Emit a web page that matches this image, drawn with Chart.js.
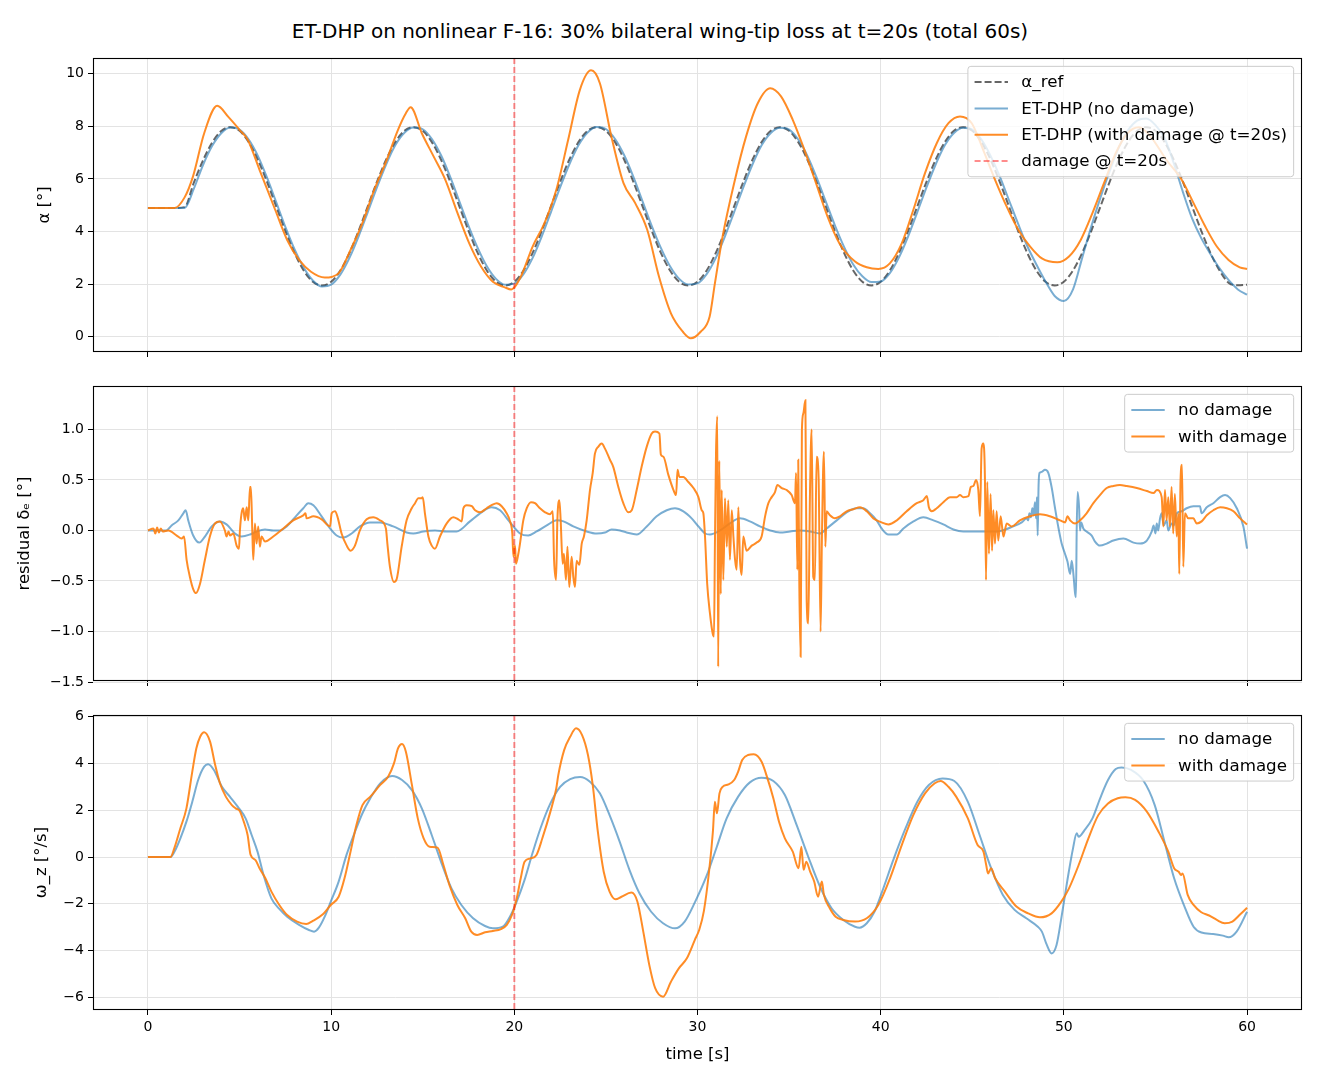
<!DOCTYPE html>
<html>
<head>
<meta charset="utf-8">
<title>ET-DHP F-16 damage</title>
<script src="https://cdn.jsdelivr.net/npm/chart.js@4.4.1/dist/chart.umd.min.js"></script>
<style>
  html, body { margin: 0; padding: 0; background: #fff; }
  body { width: 1320px; height: 1080px; position: relative; overflow: hidden; font-family: 'DejaVu Sans', sans-serif; }
  .panel { position: absolute; left: 0; width: 1320px; }
  #title { position: absolute; left: 0; top: 19px; width: 1320px; text-align: center; font-size: 20px; line-height: 24px; color: #000; }
</style>
</head>
<body>
<div id="title">ET-DHP on nonlinear F-16: 30% bilateral wing-tip loss at t=20s (total 60s)</div>
<div class="panel" style="top:42px;height:326px"><canvas id="chart-alpha"></canvas></div>
<div class="panel" style="top:370px;height:327px"><canvas id="chart-residual"></canvas></div>
<div class="panel" style="top:699px;height:371px"><canvas id="chart-omega"></canvas></div>
<script>
(function () {
    'use strict';

    // ---- tick values ----
    var timeTicks  = [0, 10, 20, 30, 40, 50, 60];
    var alphaTicks = [0, 2, 4, 6, 8, 10];
    var residTicks = [-1.5, -1.0, -0.5, 0.0, 0.5, 1.0];
    var omegaTicks = [-6, -4, -2, 0, 2, 4, 6];
    var damageTime = 20;

    // ---- alpha: 0.5 s grid (t = 0 .. 60) ----
    var tGrid = [];
    for (var i = 0; i <= 120; i++) tGrid.push(i * 0.5);

    var alphaRef = [
        4.90, 4.90, 4.90, 4.90, 4.93, 5.85, 6.70, 7.38, 7.82, 7.97,
        7.83, 7.40, 6.73, 5.89, 4.96, 4.03, 3.19, 2.52, 2.09, 1.95,
        2.09, 2.52, 3.19, 4.03, 4.96, 5.89, 6.73, 7.40, 7.83, 7.97,
        7.83, 7.40, 6.73, 5.89, 4.96, 4.03, 3.19, 2.52, 2.09, 1.95,
        2.09, 2.52, 3.19, 4.03, 4.96, 5.89, 6.73, 7.40, 7.83, 7.97,
        7.83, 7.40, 6.73, 5.89, 4.96, 4.03, 3.19, 2.52, 2.09, 1.95,
        2.09, 2.52, 3.19, 4.03, 4.96, 5.89, 6.73, 7.40, 7.83, 7.97,
        7.83, 7.40, 6.73, 5.89, 4.96, 4.03, 3.19, 2.52, 2.09, 1.95,
        2.09, 2.52, 3.19, 4.03, 4.96, 5.89, 6.73, 7.40, 7.83, 7.97,
        7.83, 7.40, 6.73, 5.89, 4.96, 4.03, 3.19, 2.52, 2.09, 1.95,
        2.09, 2.52, 3.19, 4.03, 4.96, 5.89, 6.73, 7.40, 7.83, 7.97,
        7.83, 7.40, 6.73, 5.89, 4.96, 4.03, 3.19, 2.52, 2.05, 1.96,
        1.98
    ];

    var alphaNoDamage = [
        4.90, 4.90, 4.90, 4.90, 4.90, 5.62, 6.52, 7.25, 7.74, 7.96,
        7.88, 7.50, 6.88, 6.05, 5.12, 4.18, 3.33, 2.63, 2.14, 1.91,
        1.98, 2.36, 3.00, 3.82, 4.74, 5.68, 6.55, 7.28, 7.76, 7.96,
        7.89, 7.52, 6.90, 6.08, 5.15, 4.22, 3.38, 2.68, 2.20, 1.98,
        2.02, 2.38, 3.00, 3.82, 4.74, 5.68, 6.55, 7.28, 7.77, 7.98,
        7.90, 7.52, 6.90, 6.08, 5.15, 4.22, 3.38, 2.68, 2.20, 1.99,
        2.03, 2.38, 3.00, 3.82, 4.74, 5.68, 6.55, 7.28, 7.75, 7.95,
        7.88, 7.50, 6.88, 6.06, 5.15, 4.24, 3.42, 2.75, 2.30, 2.08,
        2.10, 2.42, 3.02, 3.82, 4.74, 5.68, 6.55, 7.28, 7.75, 7.95,
        7.88, 7.50, 6.88, 6.10, 5.20, 4.30, 3.45, 2.75, 2.10, 1.55,
        1.36, 1.80, 3.00, 4.20, 5.30, 6.30, 7.20, 7.85, 8.22, 8.30,
        8.05, 7.55, 6.60, 5.50, 4.50, 3.75, 3.15, 2.60, 2.15, 1.80,
        1.60
    ];

    // ---- alpha with damage: [t, value] ----
    var alphaDamage = [
        [0, 4.9], [1.45, 4.9], [2.0, 5.3], [2.46, 6.1], [3.07, 7.74], [3.78, 8.78], [4.4, 8.35],
        [5.0, 7.87], [5.44, 7.5], [6.09, 6.35], [6.95, 4.82], [7.6, 3.68], [8.25, 2.92], [8.9, 2.47],
        [9.65, 2.25], [10.4, 2.41], [11.06, 3.3], [11.7, 4.31], [12.35, 5.58], [13.0, 6.66],
        [13.65, 7.87], [14.08, 8.5], [14.34, 8.73], [14.95, 7.74], [15.6, 6.85], [16.24, 5.96],
        [16.9, 4.7], [17.54, 3.55], [18.19, 2.66], [18.83, 2.09], [19.48, 1.88], [19.83, 1.8],
        [20.35, 2.28], [21.0, 3.43], [21.64, 4.31], [22.29, 5.58], [22.94, 7.49], [23.58, 9.39],
        [24.19, 10.13], [24.67, 9.64], [25.3, 7.61], [25.96, 5.84], [26.6, 5.08], [27.26, 4.06],
        [27.9, 2.28], [28.55, 0.89], [29.2, 0.19], [29.63, -0.06], [30.17, 0.19], [30.66, 0.76],
        [30.95, 2.03], [31.37, 3.81], [32.0, 5.84], [32.65, 7.61], [33.29, 8.88], [33.97, 9.45],
        [34.56, 9.14], [35.2, 8.25], [35.84, 7.1], [36.47, 5.84], [37.1, 4.57], [37.75, 3.55],
        [38.6, 2.86], [39.24, 2.64], [39.87, 2.58], [40.5, 2.79], [41.15, 3.55], [41.78, 4.82],
        [42.42, 6.22], [43.06, 7.36], [43.7, 8.12], [44.33, 8.38], [44.97, 8.12], [45.6, 7.1],
        [46.25, 5.96], [46.88, 4.95], [47.52, 4.06], [48.16, 3.43], [48.8, 2.98], [49.64, 2.83],
        [50.28, 3.05], [50.92, 3.68], [51.56, 4.7], [52.19, 5.84], [52.83, 6.98], [53.47, 7.74],
        [54.1, 7.97], [54.74, 7.61], [55.59, 6.73], [56.44, 5.96], [57.08, 5.08], [57.72, 4.19],
        [58.35, 3.43], [58.99, 2.92], [59.6, 2.64], [60, 2.58]
    ];

    // ---- residual elevator deflection: [t, value] ----
    var residualNoDamage = [
        [0, 0], [1.0, 0], [1.29, 0.05], [1.66, 0.1], [1.93, 0.17], [2.06, 0.2], [2.2, 0.1],
        [2.47, -0.05], [2.8, -0.12], [3.11, -0.06], [3.48, 0.04], [3.93, 0.09], [4.29, 0.06],
        [4.75, -0.03], [5.11, -0.06], [5.57, -0.04], [5.93, -0.01], [6.39, 0.01], [6.84, 0],
        [7.21, 0], [7.57, 0.04], [8.12, 0.15], [8.48, 0.22], [8.75, 0.27], [9.03, 0.25],
        [9.48, 0.14], [9.94, 0.02], [10.3, -0.05], [10.66, -0.07], [11.12, -0.03], [11.57, 0.04],
        [12.12, 0.08], [12.67, 0.08], [13.39, 0.04], [14.12, -0.02], [14.49, -0.03], [15.03, -0.01],
        [15.67, 0], [16.31, -0.01], [16.85, -0.01], [17.58, 0.09], [18.13, 0.17], [18.76, 0.23],
        [19.22, 0.2], [19.68, 0.1], [20.04, 0.02], [20.31, -0.03], [20.76, -0.05], [21.22, -0.01],
        [21.77, 0.05], [22.32, 0.1], [22.68, 0.09], [23.22, 0.04], [23.95, -0.01], [24.5, -0.03],
        [24.95, -0.02], [25.31, 0.01], [25.77, 0], [26.13, -0.02], [26.68, -0.04], [27.23, 0.04],
        [27.77, 0.14], [28.32, 0.2], [28.77, 0.22], [29.23, 0.19], [29.68, 0.12], [30.05, 0.04],
        [30.42, -0.03], [30.68, -0.04], [31.23, 0], [31.77, 0.07], [32.32, 0.12], [32.86, 0.09],
        [33.41, 0.04], [33.96, 0], [34.5, -0.02], [35.05, -0.01], [35.6, 0], [36.14, -0.01],
        [36.68, -0.03], [37.05, 0.02], [37.6, 0.1], [38.14, 0.18], [38.69, 0.22], [39.05, 0.22],
        [39.42, 0.17], [39.78, 0.1], [40.05, 0.02], [40.42, -0.04], [40.88, -0.04], [41.24, 0.02],
        [41.79, 0.09], [42.33, 0.13], [42.88, 0.1], [43.42, 0.06], [43.97, 0.01], [44.51, -0.01],
        [45.06, -0.01], [45.6, -0.01], [46.33, -0.01], [47.24, 0.04], [47.7, 0.08], [47.97, 0.12],
        [48.05, 0.1], [48.12, 0.17], [48.2, 0.13], [48.28, 0.22], [48.35, 0.15], [48.42, 0.28],
        [48.48, 0.12], [48.53, 0.33], [48.57, -0.05], [48.62, 0.45], [48.67, 0.57], [48.79, 0.58],
        [48.97, 0.6], [49.15, 0.57], [49.33, 0.43], [49.51, 0.23], [49.69, 0.04], [49.88, -0.13],
        [50.06, -0.23], [50.2, -0.31], [50.34, -0.43], [50.43, -0.3], [50.52, -0.43], [50.61, -0.62],
        [50.66, -0.66], [50.7, 0], [50.75, 0.38], [50.83, 0.23], [50.88, 0], [50.95, 0.08],
        [51.06, 0.02], [51.24, -0.01], [51.52, -0.05], [51.7, -0.11], [51.97, -0.15], [52.34, -0.13],
        [52.7, -0.1], [53.25, -0.08], [53.8, -0.12], [54.16, -0.13], [54.53, -0.1], [54.8, -0.01],
        [54.9, 0.05], [55.0, -0.03], [55.07, 0.07], [55.15, 0], [55.25, 0.12], [55.34, 0.17],
        [55.45, 0.05], [55.61, 0.1], [55.7, 0], [55.88, 0.07], [56.0, 0.05], [56.16, 0.17],
        [56.43, 0.19], [56.7, 0.22], [57.07, 0.24], [57.43, 0.24], [57.52, 0.17], [57.8, 0.23],
        [58.16, 0.27], [58.53, 0.33], [58.8, 0.35], [59.08, 0.32], [59.44, 0.22], [59.8, 0.04],
        [60, -0.18]
    ];

    var residualDamage = [
        [0, 0], [0.3, 0.02], [0.4, -0.03], [0.5, 0.03], [0.6, -0.02], [0.7, 0.02], [0.8, -0.01],
        [1.11, 0], [1.57, -0.05], [1.84, -0.08], [1.97, -0.06], [2.11, -0.29], [2.29, -0.46],
        [2.47, -0.58], [2.62, -0.62], [2.84, -0.53], [3.11, -0.29], [3.38, -0.06], [3.66, 0.07],
        [3.93, 0.09], [4.2, 0], [4.29, -0.06], [4.4, -0.01], [4.48, -0.05], [4.66, -0.03],
        [4.84, -0.15], [4.97, -0.18], [5.02, 0], [5.11, 0.17], [5.2, 0.22], [5.29, 0.1], [5.39, 0.23],
        [5.48, 0.1], [5.57, 0.43], [5.62, 0.43], [5.7, -0.03], [5.75, -0.29], [5.84, 0.07],
        [5.93, -0.13], [6.02, 0.04], [6.11, -0.16], [6.2, -0.06], [6.39, -0.11], [6.84, -0.06],
        [7.39, 0.02], [7.93, 0.1], [8.48, 0.15], [8.6, 0.17], [8.66, 0.12], [9.03, 0.14],
        [9.48, 0.11], [9.94, 0.04], [10.03, 0.17], [10.21, 0.19], [10.34, 0.14], [10.57, -0.03],
        [10.85, -0.15], [11.06, -0.2], [11.3, -0.15], [11.57, 0], [11.94, 0.11], [12.3, 0.13],
        [12.67, 0.1], [12.99, 0.02], [13.07, -0.13], [13.21, -0.36], [13.43, -0.51], [13.58, -0.48],
        [13.85, -0.16], [14.12, 0.1], [14.4, 0.22], [14.58, 0.27], [14.76, 0.32], [14.94, 0.32],
        [15.0, 0.33], [15.12, 0.17], [15.31, -0.06], [15.49, -0.15], [15.67, -0.18], [15.94, -0.06],
        [16.31, 0.07], [16.67, 0.13], [16.94, 0.11], [17.13, 0.09], [17.22, 0.22], [17.4, 0.25],
        [17.68, 0.24], [17.86, 0.2], [18.13, 0.18], [18.49, 0.22], [18.76, 0.25], [19.04, 0.27],
        [19.31, 0.24], [19.58, 0.17], [19.77, 0.09], [19.89, -0.03], [19.95, -0.26], [20.04, -0.15],
        [20.09, -0.33], [20.22, -0.23], [20.31, -0.13], [20.49, 0.1], [20.68, 0.22], [20.91, 0.28],
        [21.13, 0.27], [21.4, 0.22], [21.68, 0.18], [21.95, 0.16], [22.1, 0.19], [22.17, -0.29],
        [22.28, -0.49], [22.35, 0.1], [22.46, 0.3], [22.53, 0.1], [22.64, -0.33], [22.71, -0.23],
        [22.82, -0.49], [22.9, -0.16], [23.0, -0.56], [23.13, -0.26], [23.22, -0.46], [23.31, -0.56],
        [23.4, -0.3], [23.55, -0.34], [23.68, -0.13], [23.8, -0.06], [23.95, 0.1], [24.13, 0.4],
        [24.28, 0.57], [24.4, 0.76], [24.59, 0.83], [24.77, 0.86], [24.95, 0.81], [25.22, 0.7],
        [25.4, 0.63], [25.68, 0.43], [25.95, 0.27], [26.22, 0.18], [26.41, 0.2], [26.68, 0.4],
        [26.95, 0.63], [27.23, 0.83], [27.5, 0.96], [27.68, 0.98], [27.92, 0.96], [28.0, 0.75],
        [28.14, 0.73], [28.41, 0.55], [28.69, 0.4], [28.83, 0.35], [28.91, 0.6], [29.01, 0.53],
        [29.23, 0.53], [29.5, 0.48], [29.78, 0.42], [30.05, 0.33], [30.23, 0.2], [30.32, 0.17],
        [30.41, -0.06], [30.53, -0.53], [30.68, -0.82], [30.83, -1.02], [30.9, -1.05], [30.95, -0.16],
        [31.01, 0.76], [31.08, 1.13], [31.13, -1.35], [31.19, 0.69], [31.27, -0.63], [31.32, 0.4],
        [31.41, -0.49], [31.5, 0.32], [31.6, -0.16], [31.68, 0.3], [31.77, -0.29], [31.87, 0.2],
        [31.96, -0.06], [32.05, -0.29], [32.14, -0.39], [32.23, 0.23], [32.32, -0.29], [32.41, -0.44],
        [32.5, -0.06], [32.68, -0.2], [32.96, -0.15], [33.23, -0.12], [33.5, -0.06], [33.69, 0.14],
        [33.87, 0.27], [34.05, 0.33], [34.23, 0.38], [34.36, 0.45], [34.6, 0.42], [34.87, 0.4],
        [35.14, 0.35], [35.32, 0.27], [35.38, 0.57], [35.45, -0.39], [35.5, 0.7], [35.56, -0.56],
        [35.63, -1.25], [35.7, 1.0], [35.78, 1.16], [35.89, 1.29], [35.96, -0.69], [36.05, -0.92],
        [36.14, 0.36], [36.23, 1.0], [36.32, -0.46], [36.41, -0.49], [36.5, 0.73], [36.61, 0.53],
        [36.72, -1.0], [36.79, -0.1], [36.9, 0.78], [36.98, -0.16], [37.05, 0.19], [37.23, 0.15],
        [37.5, 0.12], [37.78, 0.14], [38.14, 0.19], [38.51, 0.21], [38.87, 0.23], [39.24, 0.19],
        [39.6, 0.12], [40.05, 0.08], [40.42, 0.06], [40.88, 0.1], [41.42, 0.19], [41.97, 0.27],
        [42.33, 0.3], [42.52, 0.34], [42.63, 0.23], [42.79, 0.19], [43.06, 0.22], [43.42, 0.28],
        [43.79, 0.33], [44.15, 0.33], [44.33, 0.35], [44.51, 0.33], [44.79, 0.34], [44.92, 0.43],
        [45.06, 0.44], [45.21, 0.5], [45.33, 0.4], [45.42, 0.14], [45.51, 0.81], [45.6, 0.86],
        [45.69, 0.53], [45.75, -0.49], [45.82, 0.48], [45.91, -0.23], [46.0, 0.36], [46.08, -0.2],
        [46.15, 0.2], [46.24, -0.13], [46.33, 0.19], [46.42, -0.1], [46.55, 0.14], [46.7, -0.06],
        [46.88, 0.07], [47.15, 0.04], [47.6, 0.1], [48.15, 0.14], [48.7, 0.16], [49.24, 0.14],
        [49.79, 0.1], [50.07, 0.08], [50.2, 0.14], [50.34, 0.1], [50.61, 0.07], [50.88, 0.1],
        [51.24, 0.17], [51.61, 0.27], [51.97, 0.35], [52.34, 0.42], [52.7, 0.44], [53.06, 0.45],
        [53.43, 0.44], [53.98, 0.42], [54.53, 0.39], [54.89, 0.37], [55.08, 0.4], [55.34, 0.33],
        [55.43, 0.04], [55.52, 0.4], [55.61, 0.1], [55.7, 0.33], [55.79, 0.04], [55.88, 0.43],
        [55.97, -0.03], [56.06, 0.36], [56.16, -0.06], [56.25, 0.17], [56.3, -0.43], [56.37, 0.5],
        [56.45, 0.65], [56.52, -0.36], [56.61, 0.17], [56.79, 0.12], [57.07, 0.12], [57.25, 0.07],
        [57.52, 0.09], [57.8, 0.15], [58.16, 0.2], [58.53, 0.23], [58.9, 0.22], [59.26, 0.19],
        [59.62, 0.12], [60, 0.06]
    ];

    // ---- pitch rate omega_z: [t, value] ----
    var omegaNoDamage = [
        [0, 0], [1.23, 0], [1.45, 0.23], [1.77, 0.8], [2.1, 1.51], [2.42, 2.36], [2.74, 3.29],
        [3.07, 3.86], [3.28, 3.96], [3.6, 3.72], [4.04, 3.0], [4.47, 2.58], [4.9, 2.15], [5.33, 1.65],
        [5.66, 0.94], [5.98, 0.23], [6.31, -0.77], [6.74, -1.77], [7.17, -2.22], [7.6, -2.55],
        [8.25, -2.9], [8.79, -3.12], [9.07, -3.19], [9.33, -3.02], [9.65, -2.55], [9.98, -1.91],
        [10.41, -1.05], [10.84, 0.09], [11.27, 1.01], [11.71, 1.87], [12.14, 2.51], [12.68, 3.15],
        [13.33, 3.46], [13.87, 3.29], [14.41, 2.86], [14.95, 2.08], [15.49, 0.94], [16.03, -0.27],
        [16.57, -1.34], [17.11, -2.05], [17.75, -2.62], [18.4, -2.95], [18.83, -3.05], [19.37, -2.98],
        [19.81, -2.48], [20.13, -1.91], [20.56, -0.98], [20.99, 0.16], [21.43, 1.23], [21.97, 2.29],
        [22.5, 3.0], [23.05, 3.33], [23.59, 3.42], [24.13, 3.22], [24.67, 2.72], [25.2, 1.79],
        [25.75, 0.66], [26.29, -0.56], [26.83, -1.55], [27.47, -2.34], [28.12, -2.83], [28.77, -3.05],
        [29.3, -2.76], [29.85, -1.95], [30.5, -0.8], [31.06, 0.45], [31.59, 1.65], [32.22, 2.58],
        [32.86, 3.19], [33.5, 3.39], [34.14, 3.25], [34.77, 2.65], [35.41, 1.37], [36.05, 0],
        [36.69, -1.27], [37.32, -2.19], [37.96, -2.69], [38.6, -2.98], [38.85, -3.02], [39.24, -2.83],
        [39.66, -2.34], [40.08, -1.48], [40.72, -0.06], [41.36, 1.23], [42.0, 2.36], [42.63, 3.08],
        [43.38, 3.36], [44.02, 3.25], [44.76, 2.36], [45.4, 0.94], [46.03, -0.48], [46.67, -1.62],
        [47.31, -2.26], [47.95, -2.62], [48.58, -2.98], [48.8, -3.19], [49.07, -3.76], [49.33, -4.12],
        [49.6, -3.76], [49.86, -2.62], [50.18, -1.05], [50.5, 0.37], [50.7, 1.01], [50.81, 0.87],
        [51.13, 1.15], [51.56, 1.65], [51.98, 2.51], [52.41, 3.29], [52.83, 3.76], [53.15, 3.83],
        [53.68, 3.72], [54.32, 3.29], [54.96, 2.22], [55.49, 0.66], [56.02, -0.91], [56.55, -2.05],
        [57.08, -2.98], [57.51, -3.23], [58.15, -3.29], [58.68, -3.36], [59.0, -3.43], [59.43, -3.19],
        [60, -2.34]
    ];

    var omegaDamage = [
        [0, 0], [1.23, 0], [1.45, 0.4], [1.77, 1.23], [2.1, 2.08], [2.42, 3.65], [2.64, 4.64],
        [2.85, 5.14], [3.07, 5.33], [3.39, 4.93], [3.67, 3.93], [3.93, 3.15], [4.25, 2.58],
        [4.58, 2.22], [4.79, 2.08], [5.01, 1.97], [5.23, 1.51], [5.44, 0.94], [5.6, 0.1],
        [5.87, -0.13], [6.09, -0.48], [6.41, -0.91], [6.74, -1.48], [7.17, -2.05], [7.6, -2.48],
        [8.14, -2.76], [8.64, -2.86], [9.0, -2.73], [9.55, -2.45], [9.98, -2.05], [10.41, -1.7],
        [10.73, -0.91], [11.06, 0.23], [11.38, 1.37], [11.71, 2.22], [12.14, 2.58], [12.68, 3.08],
        [13.11, 3.43], [13.43, 4.0], [13.65, 4.64], [13.87, 4.83], [14.08, 4.5], [14.41, 3.08],
        [14.73, 1.65], [15.05, 0.8], [15.38, 0.44], [15.81, 0.4], [16.13, -0.34], [16.46, -1.2],
        [16.89, -2.05], [17.32, -2.62], [17.65, -3.19], [17.97, -3.33], [18.4, -3.22], [18.83, -3.16],
        [19.27, -3.08], [19.59, -2.9], [19.87, -2.48], [20.13, -1.77], [20.35, -0.91], [20.56, -0.2],
        [20.88, -0.06], [21.21, 0.09], [21.53, 0.8], [21.97, 1.94], [22.29, 2.93], [22.4, 3.5],
        [22.72, 4.57], [23.05, 5.14], [23.37, 5.5], [23.7, 5.21], [24.02, 4.36], [24.28, 3.08],
        [24.56, 1.08], [24.88, -0.63], [25.2, -1.48], [25.53, -1.81], [25.85, -1.7], [26.39, -1.52],
        [26.72, -1.91], [27.04, -3.19], [27.37, -4.62], [27.69, -5.61], [28.12, -5.97], [28.55, -5.33],
        [28.98, -4.76], [29.42, -4.33], [29.85, -3.55], [30.1, -3.1], [30.35, -2.3], [30.63, -0.63],
        [30.84, 1.08], [30.95, 2.36], [31.06, 1.87], [31.2, 2.72], [31.37, 3.0], [31.69, 3.1],
        [32.0, 3.29], [32.22, 3.65], [32.44, 4.15], [32.76, 4.36], [33.07, 4.39], [33.5, 4.07],
        [33.82, 3.36], [34.14, 2.51], [34.45, 1.51], [34.77, 0.8], [35.2, 0.23], [35.52, -0.48],
        [35.67, 0.44], [35.79, -0.55], [35.94, -0.2], [36.15, -0.63], [36.37, -1.05], [36.58, -1.7],
        [36.79, -1.05], [36.9, -1.62], [37.22, -2.19], [37.54, -2.55], [37.96, -2.69], [38.6, -2.76],
        [39.24, -2.62], [39.87, -2.05], [40.51, -0.91], [41.15, 0.51], [41.78, 1.79], [42.42, 2.72],
        [42.95, 3.15], [43.27, 3.25], [43.7, 3.0], [44.12, 2.58], [44.76, 1.65], [45.29, 0.51],
        [45.61, 0.23], [45.76, -0.34], [45.86, -0.7], [46.03, -0.48], [46.25, -0.91], [46.78, -1.48],
        [47.41, -2.12], [48.05, -2.41], [48.69, -2.58], [49.33, -2.41], [49.86, -1.91], [50.28, -1.34],
        [50.81, -0.34], [51.34, 0.8], [51.88, 1.79], [52.41, 2.29], [52.94, 2.51], [53.36, 2.55],
        [53.89, 2.44], [54.53, 1.94], [55.17, 1.08], [55.7, 0.23], [56.02, -0.48], [56.27, -0.63],
        [56.4, -0.77], [56.48, -0.7], [56.76, -1.62], [57.08, -2.05], [57.5, -2.36], [57.93, -2.5],
        [58.35, -2.69], [58.78, -2.83], [59.2, -2.76], [59.63, -2.45], [60, -2.17]
    ];

    // ---- styling ----
    var FONT = "'DejaVu Sans', sans-serif";
    var COL_REF = 'rgba(0,0,0,0.6)';
    var COL_NO = 'rgba(31,119,180,0.6)';
    var COL_DMG = 'rgba(255,127,14,0.9)';
    var COL_EVENT = 'rgba(255,0,0,0.45)';
    var EDGE = 16;          // space above/below each plot area inside its canvas
    var LABEL_SIZE = 16.5;  // axis label font size

    Chart.defaults.font.family = FONT;
    Chart.defaults.color = '#000';

    function pairsToXY(pairs) {
        return pairs.map(function (p) { return { x: p[0], y: p[1] }; });
    }
    function gridToXY(times, vals) {
        return vals.map(function (v, k) { return { x: times[k], y: v }; });
    }
    function fixedTicks(list) {
        return function (scale) {
            scale.ticks = list.map(function (v) { return { value: v }; });
        };
    }
    function minusSign(s) { return s.replace('-', '\u2212'); }

    function gridOpts() {
        return { color: '#e3e3e3', lineWidth: 1, tickColor: '#000', tickLength: 5, tickWidth: 1 };
    }

    function xAxis(withLabels) {
        return {
            type: 'linear', min: -3, max: 63,
            afterBuildTicks: fixedTicks(timeTicks),
            afterFit: function (s) { s.height = withLabels ? 60 : EDGE; },
            grid: gridOpts(),
            border: { display: false },
            ticks: {
                display: withLabels, font: { size: 14 }, padding: 4,
                maxRotation: 0, autoSkip: false,
                callback: function (v) { return minusSign(String(v)); }
            },
            title: {
                display: withLabels, text: 'time [s]', font: { size: LABEL_SIZE },
                padding: { top: 0, bottom: 5 }
            }
        };
    }

    function yAxis(min, max, list, decimals, label, titleLeft) {
        return {
            type: 'linear', min: min, max: max,
            afterBuildTicks: fixedTicks(list),
            afterFit: function (s) { s.width = 93; },
            grid: gridOpts(),
            border: { display: false },
            ticks: {
                font: { size: 14 }, padding: 4, autoSkip: false,
                callback: function (v) { return minusSign(v.toFixed(decimals)); }
            },
            title: {
                display: true, text: label, font: { size: LABEL_SIZE },
                padding: { top: titleLeft, bottom: 0 }
            }
        };
    }

    // event line + axes frame
    var framePlugin = {
        id: 'frameAndEvent',
        afterDatasetsDraw: function (chart) {
            var ctx = chart.ctx, a = chart.chartArea;
            var px = chart.scales.x.getPixelForValue(damageTime);
            ctx.save();
            ctx.beginPath();
            ctx.rect(a.left, a.top, a.right - a.left, a.bottom - a.top);
            ctx.clip();
            ctx.strokeStyle = COL_EVENT;
            ctx.lineWidth = 2;
            ctx.setLineDash([6, 3]);
            ctx.beginPath();
            ctx.moveTo(px, a.top);
            ctx.lineTo(px, a.bottom);
            ctx.stroke();
            ctx.restore();

            ctx.save();
            ctx.strokeStyle = '#000';
            ctx.lineWidth = 1.1;
            ctx.strokeRect(a.left + 0.5, a.top + 0.5, a.right - a.left - 1, a.bottom - a.top - 1);
            ctx.restore();
        }
    };

    // matplotlib-like legend drawn inside the plot, upper right
    var boxLegend = {
        id: 'boxLegend',
        afterDraw: function (chart, args, opts) {
            var items = opts.items;
            if (!items || !items.length) return;
            var ctx = chart.ctx, a = chart.chartArea;
            var fs = 16.7;
            ctx.save();
            ctx.font = fs + 'px ' + FONT;
            var textW = 0;
            items.forEach(function (it) { textW = Math.max(textW, ctx.measureText(it.label).width); });
            var pad = 0.4 * fs, handle = 2 * fs, gap = 0.8 * fs, rowH = 18, spacing = 0.5 * fs;
            var w = pad * 2 + handle + gap + textW;
            var h = pad * 2 + items.length * rowH + (items.length - 1) * spacing;
            var x = a.right - 0.5 * fs - w, y = a.top + 0.5 * fs;

            ctx.beginPath();
            ctx.roundRect(x, y, w, h, 3);
            ctx.fillStyle = 'rgba(255,255,255,0.8)';
            ctx.fill();
            ctx.strokeStyle = '#cccccc';
            ctx.lineWidth = 1;
            ctx.stroke();

            items.forEach(function (it, k) {
                var cy = y + pad + rowH / 2 + k * (rowH + spacing);
                ctx.beginPath();
                ctx.setLineDash(it.dash || []);
                ctx.strokeStyle = it.color;
                ctx.lineWidth = it.width || 2;
                ctx.moveTo(x + pad, cy);
                ctx.lineTo(x + pad + handle, cy);
                ctx.stroke();
                ctx.setLineDash([]);
                ctx.fillStyle = '#000';
                ctx.textBaseline = 'middle';
                ctx.textAlign = 'left';
                ctx.fillText(it.label, x + pad + handle + gap, cy + 1);
            });
            ctx.restore();
        }
    };

    function smoothLine(label, data, color, order, dash) {
        return {
            label: label, data: data, borderColor: color, borderWidth: 2,
            borderDash: dash || [], pointRadius: 0, fill: false,
            cubicInterpolationMode: 'monotone', order: order
        };
    }

    function baseOptions(yScale, withXLabels, legendItems) {
        return {
            responsive: true,
            maintainAspectRatio: false,
            animation: false,
            layout: { padding: { top: EDGE, right: 18, left: 0, bottom: 0 } },
            scales: { x: xAxis(withXLabels), y: yScale },
            plugins: {
                legend: { display: false },
                tooltip: { enabled: false },
                boxLegend: { items: legendItems }
            }
        };
    }

    var pairLegend = [
        { label: 'no damage', color: COL_NO },
        { label: 'with damage', color: COL_DMG }
    ];

    function initAlpha() {
        var canvas = document.getElementById('chart-alpha');
        new Chart(canvas, {
            type: 'line',
            data: {
                datasets: [
                    smoothLine('α_ref', gridToXY(tGrid, alphaRef), COL_REF, 3, [7, 3]),
                    smoothLine('ET-DHP (no damage)', gridToXY(tGrid, alphaNoDamage), COL_NO, 2),
                    smoothLine('ET-DHP (with damage @ t=20s)', pairsToXY(alphaDamage), COL_DMG, 1)
                ]
            },
            options: baseOptions(
                yAxis(-0.58, 10.6, alphaTicks, 0, 'α [°]', 35.1), false,
                [
                    { label: 'α_ref', color: COL_REF, dash: [7, 3] },
                    { label: 'ET-DHP (no damage)', color: COL_NO },
                    { label: 'ET-DHP (with damage @ t=20s)', color: COL_DMG },
                    { label: 'damage @ t=20s', color: COL_EVENT, dash: [6, 3] }
                ]
            ),
            plugins: [framePlugin, boxLegend]
        });
    }

    function initResidual() {
        var canvas = document.getElementById('chart-residual');
        new Chart(canvas, {
            type: 'line',
            data: {
                datasets: [
                    smoothLine('no damage', pairsToXY(residualNoDamage), COL_NO, 2),
                    smoothLine('with damage', pairsToXY(residualDamage), COL_DMG, 1)
                ]
            },
            options: baseOptions(
                yAxis(-1.49, 1.43, residTicks, 1, 'residual δₑ [°]', 15.1), false, pairLegend
            ),
            plugins: [framePlugin, boxLegend]
        });
    }

    function initOmega() {
        var canvas = document.getElementById('chart-omega');
        new Chart(canvas, {
            type: 'line',
            data: {
                datasets: [
                    smoothLine('no damage', pairsToXY(omegaNoDamage), COL_NO, 2),
                    smoothLine('with damage', pairsToXY(omegaDamage), COL_DMG, 1)
                ]
            },
            options: baseOptions(
                yAxis(-6.54, 6.07, omegaTicks, 0, 'ω_z [°/s]', 32.1), true, pairLegend
            ),
            plugins: [framePlugin, boxLegend]
        });
    }

    initAlpha();
    initResidual();
    initOmega();
})();
</script>
</body>
</html>
